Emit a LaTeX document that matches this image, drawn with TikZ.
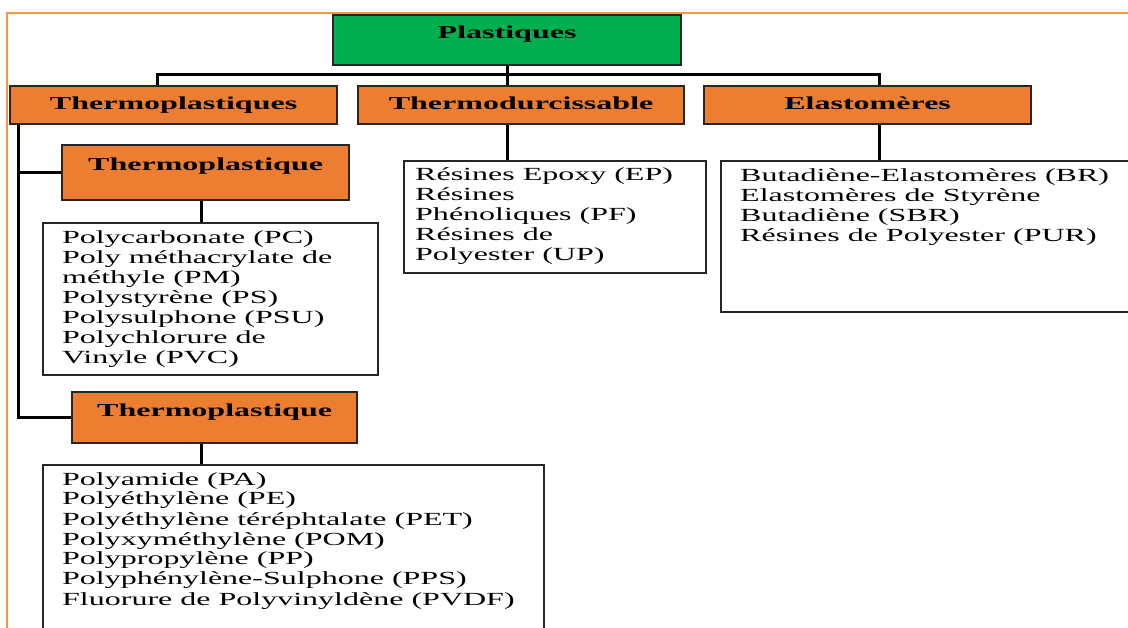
\documentclass[tikz,border=0pt]{standalone}
\usepackage{fontspec}
\setmainfont{Liberation Serif}
\usepackage{graphicx}

\definecolor{plastgreen}{HTML}{00B050}
\definecolor{famorange}{HTML}{ED7D31}
\definecolor{frameorange}{HTML}{F79646}

% the text of the figure is drawn wide
\newcommand{\wide}[1]{\scalebox{1.76}[1]{#1}}
\newcommand{\widelist}[1]{\scalebox{1.73}[1]{\begin{tabular}[t]{@{}l@{}}#1\end{tabular}}}

\tikzset{
  headbox/.style={draw=black!85, line width=2.2pt, anchor=north west,
    inner xsep=0pt, inner ysep=0pt, font=\fontsize{18.2}{20}\selectfont\bfseries},
  listbox/.style={draw=black!85, line width=2.2pt, anchor=north west, inner sep=0pt},
  listtext/.style={anchor=base west, inner sep=0pt, font=\fontsize{18.5}{20}\selectfont},
  link/.style={line width=3pt, black},
}

\begin{document}
\begin{tikzpicture}[x=1pt, y=-1pt]
    \useasboundingbox (0,0) rectangle (1128,628);

    % Frame
    \draw[frameorange, line width=1.5pt] (7,640) -- (7,13) -- (1140,13);

    % Top box
    \node[headbox, fill=plastgreen, minimum width=348pt, text height=23pt, text depth=27pt] (plast) at (332,14) {\wide{Plastiques}};

    % Families
    \node[headbox, fill=famorange, minimum width=327pt, text height=23pt, text depth=15pt] (tpl) at (9,85) {\wide{Thermoplastiques}};
    \node[headbox, fill=famorange, minimum width=326pt, text height=23pt, text depth=15pt] (tdc) at (357,85) {\wide{Thermodurcissable}};
    \node[headbox, fill=famorange, minimum width=327pt, text height=23pt, text depth=15pt] (ela) at (703,85) {\wide{Elastomères}};

    % Sub groups
    \node[headbox, fill=famorange, minimum width=287pt, text height=25pt, text depth=30pt] (th1) at (61,144) {\wide{Thermoplastique}};
    \node[headbox, fill=famorange, minimum width=285pt, text height=24pt, text depth=27pt] (th2) at (71,391) {\wide{Thermoplastique}};

    % Lists
    \node[listbox, minimum width=335pt, minimum height=152pt] (pcbox) at (42,222) {};
    \node[listbox, minimum width=501pt, minimum height=190pt] (pabox) at (42,464) {};
    \node[listbox, minimum width=302pt, minimum height=112pt] (epbox) at (403,160) {};
    \node[listbox, minimum width=420pt, minimum height=151pt] (brbox) at (720,160) {};

    \node[listtext] (pctext) at ([xshift=20pt, yshift=-22pt]pcbox.north west) {\widelist{Polycarbonate (PC)\\Poly méthacrylate de\\méthyle (PM)\\Polystyrène (PS)\\Polysulphone (PSU)\\Polychlorure de\\Vinyle (PVC)}};
    \node[listtext] (patext) at ([xshift=20pt, yshift=-21pt]pabox.north west) {\widelist{Polyamide (PA)\\Polyéthylène (PE)\\Polyéthylène téréphtalate (PET)\\Polyxyméthylène (POM)\\Polypropylène (PP)\\Polyphénylène-Sulphone (PPS)\\Fluorure de Polyvinyldène (PVDF)}};
    \node[listtext] (eptext) at ([xshift=12pt, yshift=-21pt]epbox.north west) {\widelist{Résines Epoxy (EP)\\Résines\\Phénoliques (PF)\\Résines de\\Polyester (UP)}};
    \node[listtext] (brtext) at ([xshift=20pt, yshift=-22pt]brbox.north west) {\widelist{Butadiène-Elastomères (BR)\\Elastomères de Styrène\\Butadiène (SBR)\\Résines de Polyester (PUR)}};

    % Connectors
    \coordinate (bus) at ([yshift=-8pt]plast.south);
    \draw[link] ([xshift=-16.5pt]tpl.north) |- (bus) -| ([xshift=11.5pt]ela.north);
    \draw[link] (plast.south) -- (plast.south |- tdc.north);
    \draw[link] (plast.south |- tdc.south) -- (plast.south |- epbox.north);
    \draw[link] ([xshift=12pt]ela.south) coordinate (es) -- (es |- brbox.north);

    \coordinate (trunk) at ([xshift=9pt]tpl.south west);
    \draw[link] (trunk) |- (th2.west);
    \draw[link] (th1.west) -- (th1.west -| trunk);
    \draw[link] ([xshift=-4.5pt]th1.south) coordinate (s1) -- (s1 |- pcbox.north);
    \draw[link] ([xshift=-13.5pt]th2.south) coordinate (s2) -- (s2 |- pabox.north);
\end{tikzpicture}
\end{document}
